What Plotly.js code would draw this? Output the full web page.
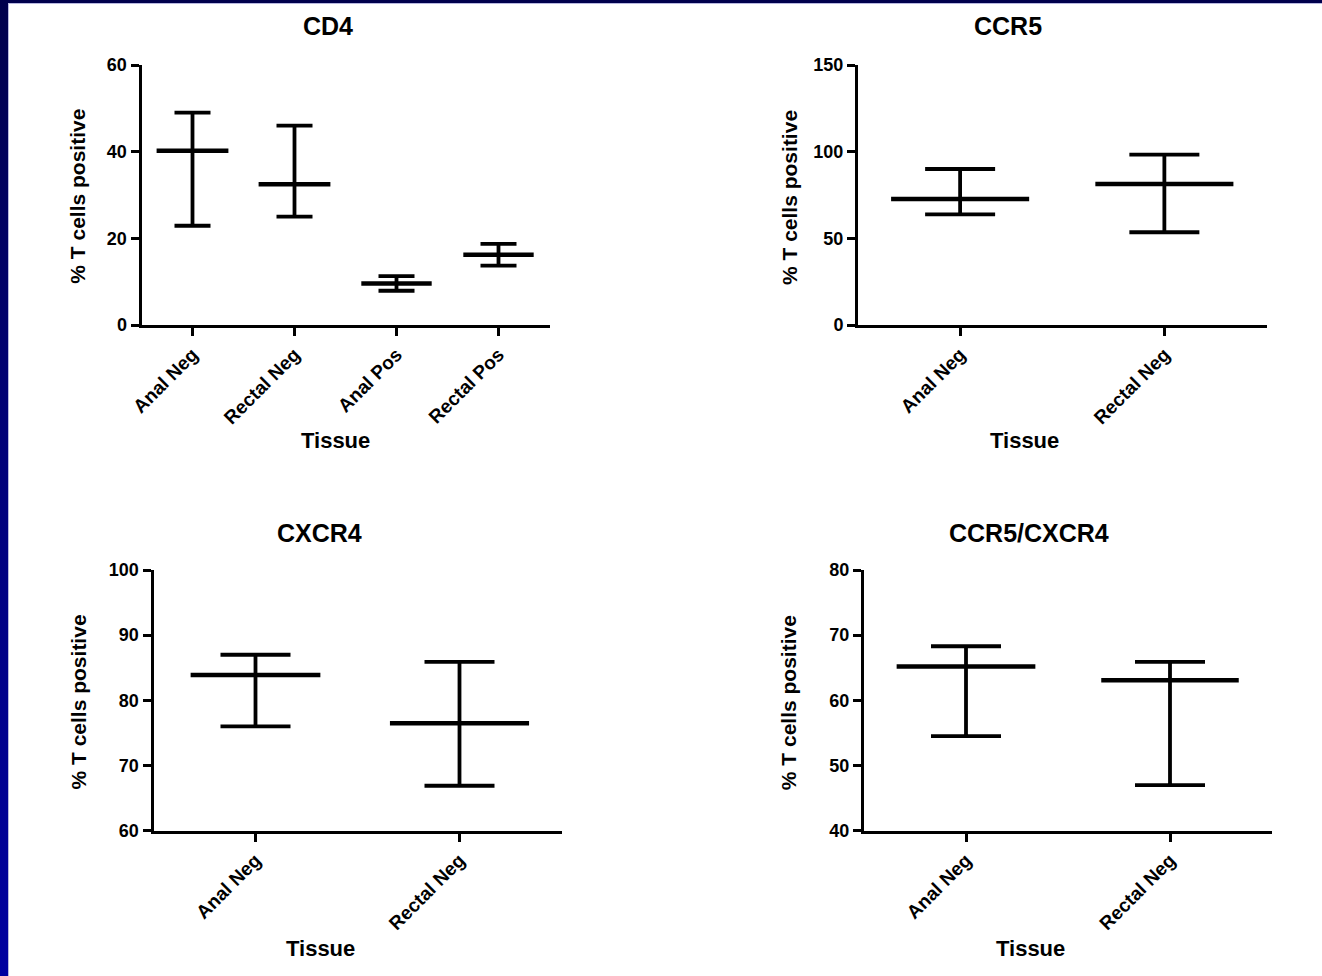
<!DOCTYPE html>
<html><head><meta charset="utf-8">
<script src="https://cdn.plot.ly/plotly-3.0.1.min.js"></script>
<style>
html,body{margin:0;padding:0;width:1322px;height:976px;overflow:hidden;background:linear-gradient(to bottom,#00004c 0%,#000078 45%,#0000a0 100%);}
#frame{position:absolute;left:8px;top:3px;width:1314px;height:973px;background:#b8b8e0;}
#plot{position:absolute;left:9px;top:4px;width:1313px;height:972px;background:#fff;}
</style></head><body><div id="frame"></div><div id="plot"></div>
<script>
// ---- data ----
const cd4Categories = ['Anal Neg', 'Rectal Neg', 'Anal Pos', 'Rectal Pos'];
const cd4Mean  = [40.2, 32.5, 9.6, 16.2];
const cd4Upper = [49.0, 46.0, 11.3, 18.7];
const cd4Lower = [22.9, 25.0, 7.9, 13.7];

const ccr5Categories = ['Anal Neg', 'Rectal Neg'];
const ccr5Mean  = [72.7, 81.3];
const ccr5Upper = [90.0, 98.3];
const ccr5Lower = [63.8, 53.5];

const cxcr4Categories = ['Anal Neg', 'Rectal Neg'];
const cxcr4Mean  = [83.9, 76.5];
const cxcr4Upper = [87.0, 85.9];
const cxcr4Lower = [76.0, 66.9];

const ratioCategories = ['Anal Neg', 'Rectal Neg'];
const ratioMean  = [65.2, 63.1];
const ratioUpper = [68.3, 65.9];
const ratioLower = [54.5, 47.0];

const yTitleText = '% T cells positive';
const xTitleText = 'Tissue';

// ---- layout helpers ----
const W = 1313, H = 972, OX = 9, OY = 4;
const fx = px => (px - OX) / W;
const fy = py => 1 - (py - OY) / H;
const FONT = 'Arial, "Liberation Sans", Helvetica, sans-serif';

// meanHalf: half-length of the mean line, in category units (style)
const panels = [
  {title: 'CD4', cats: cd4Categories, mean: cd4Mean, upper: cd4Upper, lower: cd4Lower,
   yr: [0, 60], dtick: 20, box: [141.5, 549.5, 65, 325], cap: 18, meanHalf: [0.352, 0.352, 0.345, 0.345],
   tpos: [327.5, 25.5], xtpos: [335.5, 441], ytpos: [78, 196.7]},
  {title: 'CCR5', cats: ccr5Categories, mean: ccr5Mean, upper: ccr5Upper, lower: ccr5Lower,
   yr: [0, 150], dtick: 50, box: [858, 1266.5, 65, 325], cap: 35, meanHalf: [0.338, 0.338],
   tpos: [1008, 25.5], xtpos: [1024.5, 441], ytpos: [789.5, 197.5]},
  {title: 'CXCR4', cats: cxcr4Categories, mean: cxcr4Mean, upper: cxcr4Upper, lower: cxcr4Lower,
   yr: [60, 100], dtick: 10, box: [153.5, 561.5, 570, 830.7], cap: 35, meanHalf: [0.318, 0.341],
   tpos: [319, 532.5], xtpos: [320, 948], ytpos: [78, 702.5]},
  {title: 'CCR5/CXCR4', cats: ratioCategories, mean: ratioMean, upper: ratioUpper, lower: ratioLower,
   yr: [40, 80], dtick: 10, box: [864, 1272, 570, 830.7], cap: 35, meanHalf: [0.34, 0.337],
   tpos: [1029, 532.5], xtpos: [1030, 948], ytpos: [788.7, 702.5]}
];

const data = [];
const layout = {
  width: W, height: H,
  margin: {l: 0, r: 0, t: 0, b: 0, pad: 0},
  paper_bgcolor: '#ffffff', plot_bgcolor: '#ffffff',
  showlegend: false,
  font: {family: FONT, color: '#000', weight: 700},
  annotations: []
};

panels.forEach((p, i) => {
  const s = i === 0 ? '' : String(i + 1);
  const idx = p.cats.map((c, k) => k);
  data.push({
    type: 'scatter', mode: 'markers',
    x: idx, y: p.mean,
    xaxis: 'x' + s, yaxis: 'y' + s,
    marker: {size: 1, color: 'rgba(0,0,0,0)'},
    error_x: {
      type: 'data', symmetric: true, array: p.meanHalf,
      color: '#000', thickness: 4.5, width: 0
    },
    error_y: {
      type: 'data', symmetric: false,
      array: p.upper.map((u, k) => u - p.mean[k]),
      arrayminus: p.mean.map((m, k) => m - p.lower[k]),
      color: '#000', thickness: 3.8, width: p.cap
    },
    cliponaxis: false, hoverinfo: 'skip', showlegend: false
  });
  const [x0, x1, y0, y1] = p.box;
  layout['xaxis' + s] = {
    domain: [fx(x0), fx(x1)], anchor: 'y' + s,
    type: 'linear', tickmode: 'array', tickvals: idx, ticktext: p.cats,
    range: [-0.5, p.cats.length - 0.5],
    showline: true, linecolor: '#000', linewidth: 3,
    ticks: 'outside', ticklen: 8, tickwidth: 3, tickcolor: '#000',
    tickangle: -45, tickfont: {family: FONT, size: 19, color: '#000', weight: 700},
    showgrid: false, zeroline: false, fixedrange: true
  };
  layout['yaxis' + s] = {
    domain: [fy(y1), fy(y0)], anchor: 'x' + s,
    range: p.yr, tickmode: 'linear', tick0: p.yr[0], dtick: p.dtick,
    showline: true, linecolor: '#000', linewidth: 3,
    ticks: 'outside', ticklen: 8, tickwidth: 3, tickcolor: '#000',
    tickfont: {family: FONT, size: 18, color: '#000', weight: 700},
    showgrid: false, zeroline: false, fixedrange: true
  };
  layout.annotations.push(
    {text: p.title, xref: 'paper', yref: 'paper', x: fx(p.tpos[0]), y: fy(p.tpos[1]),
     xanchor: 'center', yanchor: 'middle', showarrow: false,
     font: {family: FONT, size: 25, color: '#000', weight: 700}},
    {text: xTitleText, xref: 'paper', yref: 'paper', x: fx(p.xtpos[0]), y: fy(p.xtpos[1]),
     xanchor: 'center', yanchor: 'middle', showarrow: false,
     font: {family: FONT, size: 22, color: '#000', weight: 700}},
    {text: yTitleText, xref: 'paper', yref: 'paper', x: fx(p.ytpos[0]), y: fy(p.ytpos[1]),
     xanchor: 'center', yanchor: 'middle', showarrow: false, textangle: -90,
     font: {family: FONT, size: 21, color: '#000', weight: 700}}
  );
});

Plotly.newPlot('plot', data, layout, {staticPlot: true, displayModeBar: false});
</script></body></html>
